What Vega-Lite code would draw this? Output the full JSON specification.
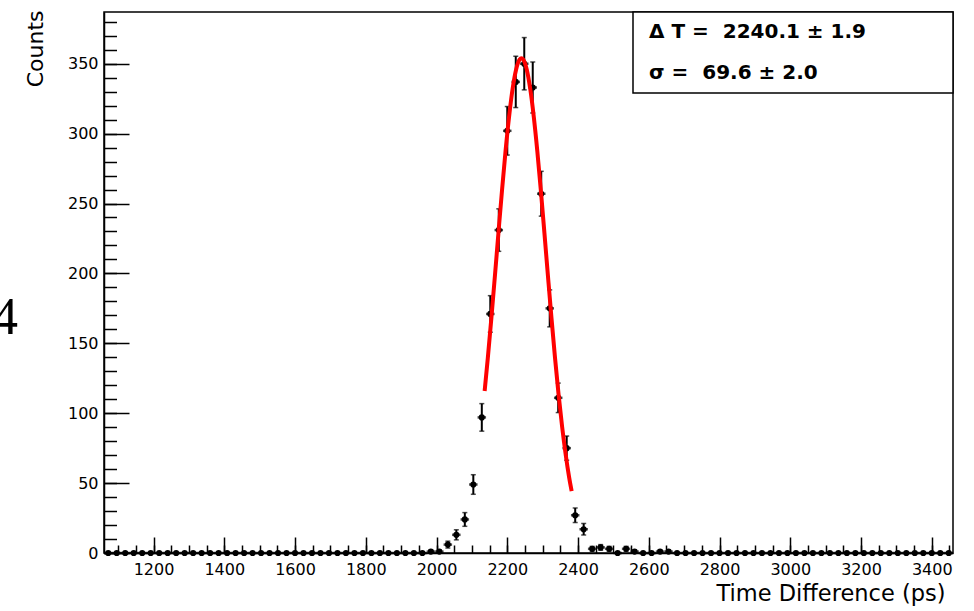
{
  "$schema": "https://vega.github.io/schema/vega-lite/v6.json",
  "width": 849,
  "height": 541,
  "autosize": "none",
  "padding": {"left": 104, "top": 12, "right": 21, "bottom": 58},
  "background": "#ffffff",
  "title": {"text": "4", "orient": "left", "anchor": "middle", "angle": 0, "font": "Liberation Serif", "fontSize": 52, "fontWeight": "normal", "color": "#000000", "align": "right", "baseline": "middle", "offset": -20, "dy": 35},
  "datasets": {
    "hist": [
      {"t":1072,"n":0},{"t":1096,"n":0},{"t":1120,"n":0},{"t":1144,"n":0},{"t":1168,"n":0},
      {"t":1192,"n":0},{"t":1216,"n":0},{"t":1240,"n":0},{"t":1264,"n":0},{"t":1288,"n":0},
      {"t":1312,"n":0},{"t":1336,"n":0},{"t":1360,"n":0},{"t":1384,"n":0},{"t":1408,"n":0},
      {"t":1432,"n":0},{"t":1456,"n":0},{"t":1480,"n":0},{"t":1504,"n":0},{"t":1528,"n":0},
      {"t":1552,"n":0},{"t":1576,"n":0},{"t":1600,"n":0},{"t":1624,"n":0},{"t":1648,"n":0},
      {"t":1672,"n":0},{"t":1696,"n":0},{"t":1720,"n":0},{"t":1744,"n":0},{"t":1768,"n":0},
      {"t":1792,"n":0},{"t":1816,"n":0},{"t":1840,"n":0},{"t":1864,"n":0},{"t":1888,"n":0},
      {"t":1912,"n":0},{"t":1936,"n":0},{"t":1960,"n":0},
      {"t":1984,"n":1,"lo":0,"hi":2},{"t":2008,"n":1,"lo":0,"hi":2},
      {"t":2032,"n":6,"lo":3.55,"hi":8.45},{"t":2056,"n":13,"lo":9.39,"hi":16.61},{"t":2080,"n":24,"lo":19.1,"hi":28.9},
      {"t":2104,"n":49,"lo":42,"hi":56},{"t":2128,"n":97,"lo":87.15,"hi":106.85},{"t":2152,"n":171,"lo":157.92,"hi":184.08},
      {"t":2176,"n":231,"lo":215.8,"hi":246.2},{"t":2200,"n":302,"lo":284.62,"hi":319.38},{"t":2224,"n":337,"lo":318.64,"hi":355.36},
      {"t":2248,"n":350,"lo":331.29,"hi":368.71},{"t":2272,"n":333,"lo":314.75,"hi":351.25},{"t":2296,"n":257,"lo":240.97,"hi":273.03},
      {"t":2320,"n":175,"lo":161.77,"hi":188.23},{"t":2344,"n":111,"lo":100.46,"hi":121.54},{"t":2368,"n":75,"lo":66.34,"hi":83.66},
      {"t":2392,"n":27,"lo":21.8,"hi":32.2},{"t":2416,"n":17,"lo":12.88,"hi":21.12},{"t":2440,"n":3,"lo":1.27,"hi":4.73},
      {"t":2464,"n":4,"lo":2,"hi":6},{"t":2488,"n":3,"lo":1.27,"hi":4.73},{"t":2512,"n":0},
      {"t":2536,"n":3,"lo":1.27,"hi":4.73},{"t":2560,"n":1,"lo":0,"hi":2},{"t":2584,"n":0},{"t":2608,"n":0},
      {"t":2632,"n":1,"lo":0,"hi":2},{"t":2656,"n":1,"lo":0,"hi":2},{"t":2680,"n":0},{"t":2704,"n":0},{"t":2728,"n":0},
      {"t":2752,"n":0},{"t":2776,"n":0},{"t":2800,"n":0},{"t":2824,"n":0},{"t":2848,"n":0},
      {"t":2872,"n":0},{"t":2896,"n":0},{"t":2920,"n":0},{"t":2944,"n":0},{"t":2968,"n":0},
      {"t":2992,"n":0},{"t":3016,"n":0},{"t":3040,"n":0},{"t":3064,"n":0},{"t":3088,"n":0},
      {"t":3112,"n":0},{"t":3136,"n":0},{"t":3160,"n":0},{"t":3184,"n":0},{"t":3208,"n":0},
      {"t":3232,"n":0},{"t":3256,"n":0},{"t":3280,"n":0},{"t":3304,"n":0},{"t":3328,"n":0},
      {"t":3352,"n":0},{"t":3376,"n":0},{"t":3400,"n":0},{"t":3424,"n":0},{"t":3448,"n":0}
    ],
    "fit": [
      {"t":2136,"f":115.9},{"t":2145,"f":139.5},{"t":2155,"f":167.9},{"t":2165,"f":198.1},{"t":2175,"f":228.9},
      {"t":2185,"f":259.1},{"t":2195,"f":287.2},{"t":2205,"f":311.9},{"t":2215,"f":331.9},{"t":2225,"f":345.9},
      {"t":2235,"f":353.1},{"t":2240,"f":354},{"t":2245,"f":353.1},{"t":2255,"f":345.9},{"t":2265,"f":331.9},
      {"t":2275,"f":311.9},{"t":2285,"f":287.2},{"t":2295,"f":259.1},{"t":2305,"f":228.9},{"t":2315,"f":198.1},
      {"t":2325,"f":167.9},{"t":2335,"f":139.5},{"t":2345,"f":113.4},{"t":2355,"f":90.4},{"t":2365,"f":70.6},
      {"t":2375,"f":53.9},{"t":2382,"f":44.2}
    ],
    "pars": [
      {"p":"Δ T =\u00a0 2240.1 ± 1.9"},
      {"p":"σ =\u00a0 69.6 ± 2.0"}
    ]
  },
  "layer": [
    {
      "data": {"name": "hist"},
      "mark": {"type": "rule", "color": "#000000", "strokeWidth": 2},
      "encoding": {
        "x": {"field": "t", "type": "quantitative", "scale": {"domain": [1060, 3460], "nice": false, "zero": false},
          "axis": {
            "orient": "bottom",
            "title": "Time Difference (ps)", "titleFont": "DejaVu Sans", "titleFontSize": 22.5, "titleFontWeight": "normal", "titleColor": "#000000",
            "titleAlign": "right", "titleAnchor": "end", "titleX": 841, "titleY": 47, "titleBaseline": "alphabetic",
            "values": [1200, 1400, 1600, 1800, 2000, 2200, 2400, 2600, 2800, 3000, 3200, 3400], "format": "d",
            "labelFont": "DejaVu Sans", "labelFontSize": 16, "labelColor": "#000000", "labelOverlap": false, "labelFlush": false,
            "labelPadding": 24, "tickSize": -16,
            "tickColor": "#000000", "tickWidth": 1.5, "domainColor": "#000000", "domainWidth": 1.5, "grid": false
          }},
        "y": {"field": "lo", "type": "quantitative", "scale": {"domain": [0, 387], "nice": false, "zero": true},
          "axis": {
            "orient": "left",
            "title": "Counts", "titleFont": "DejaVu Sans", "titleFontSize": 22, "titleFontWeight": "normal", "titleColor": "#000000",
            "titleAlign": "right", "titleAngle": -90, "titleX": -62, "titleY": -2, "titleBaseline": "alphabetic",
            "values": [0, 50, 100, 150, 200, 250, 300, 350], "format": "d",
            "labelFont": "DejaVu Sans", "labelFontSize": 16, "labelColor": "#000000", "labelOverlap": false, "labelFlush": false,
            "labelPadding": 31, "tickSize": -25,
            "tickColor": "#000000", "tickWidth": 1.5, "domainColor": "#000000", "domainWidth": 1.5, "grid": false
          }},
        "y2": {"field": "hi"}
      }
    },
    {
      "data": {"name": "hist"},
      "mark": {"type": "tick", "orient": "horizontal", "size": 5, "thickness": 1.5, "color": "#000000"},
      "encoding": {
        "x": {"field": "t", "type": "quantitative",
          "axis": {"orient": "bottom", "title": null, "labels": false, "domain": false, "grid": false, "tickCount": 48, "tickSize": -8, "tickColor": "#000000", "tickWidth": 1.5}},
        "y": {"field": "lo", "type": "quantitative",
          "axis": {"orient": "left", "title": null, "labels": false, "domain": false, "grid": false, "tickCount": 39, "tickSize": -12.5, "tickColor": "#000000", "tickWidth": 1.5}}
      }
    },
    {
      "data": {"name": "hist"},
      "mark": {"type": "tick", "orient": "horizontal", "size": 5, "thickness": 1.5, "color": "#000000"},
      "encoding": {
        "x": {"field": "t", "type": "quantitative", "axis": null},
        "y": {"field": "hi", "type": "quantitative", "axis": null}
      }
    },
    {
      "data": {"name": "hist"},
      "mark": {"type": "tick", "orient": "horizontal", "size": 8.5, "thickness": 2.5, "color": "#000000"},
      "encoding": {
        "x": {"field": "t", "type": "quantitative", "axis": null},
        "y": {"field": "n", "type": "quantitative", "axis": null}
      }
    },
    {
      "data": {"name": "hist"},
      "mark": {"type": "point", "filled": true, "size": 38, "color": "#000000", "opacity": 1},
      "encoding": {
        "x": {"field": "t", "type": "quantitative", "axis": null},
        "y": {"field": "n", "type": "quantitative", "axis": null}
      }
    },
    {
      "data": {"name": "fit"},
      "mark": {"type": "line", "color": "#ff0000", "strokeWidth": 4, "interpolate": "monotone"},
      "encoding": {
        "x": {"field": "t", "type": "quantitative", "axis": null},
        "y": {"field": "f", "type": "quantitative", "axis": null}
      }
    },
    {
      "data": {"name": "pars"},
      "mark": {"type": "point", "opacity": 0},
      "encoding": {
        "color": {"field": "p", "type": "nominal", "sort": null, "scale": {"range": ["#000000", "#000000"]},
          "legend": {"title": null, "orient": "top-right", "offset": 0, "strokeColor": "#000000", "fillColor": "#ffffff",
            "padding": 10, "symbolSize": 0, "symbolOpacity": 0, "symbolStrokeWidth": 0, "labelOffset": -14, "rowPadding": 21,
            "labelFont": "DejaVu Sans", "labelFontWeight": "bold", "labelFontSize": 20, "labelColor": "#000000", "labelLimit": 0,
            "labelExpr": "datum.label + '\u00a0\u00a0\u00a0\u00a0\u00a0\u00a0\u00a0\u00a0\u00a0\u00a0\u00a0\u200b'"}}
      }
    }
  ],
  "resolve": {"axis": {"x": "independent", "y": "independent"}},
  "config": {
    "view": {"stroke": "#000000", "strokeWidth": 1.5},
    "legend": {"strokeWidth": 1.5},
    "font": "DejaVu Sans"
  }
}
